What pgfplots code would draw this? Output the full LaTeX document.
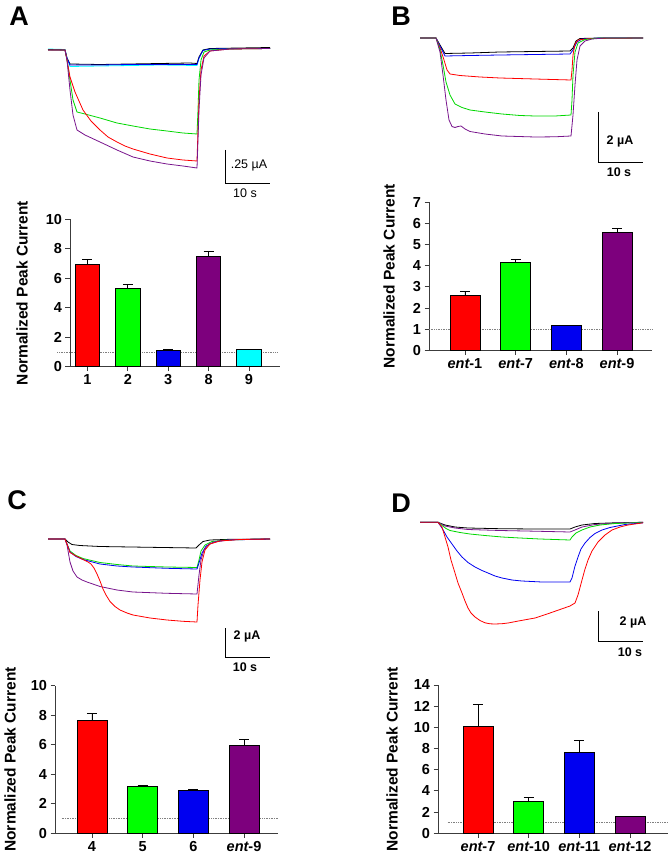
\documentclass[border=0pt]{standalone}
\usepackage{pgfplots}
\pgfplotsset{compat=1.18}
\usepackage{fontspec}
\setmainfont{Liberation Sans}

\definecolor{cRed}{RGB}{255,0,0}
\definecolor{cGreen}{RGB}{0,255,0}
\definecolor{cBlue}{RGB}{0,0,240}
\definecolor{cPurple}{RGB}{125,0,125}
\definecolor{cCyan}{RGB}{0,255,255}
\definecolor{tGreen}{RGB}{0,215,0}
\definecolor{tPurple}{RGB}{120,20,140}
\definecolor{axisgray}{RGB}{60,60,60}

\pgfplotsset{
  barpanel/.style={
    anchor=south west,
    scale only axis,
    axis x line=bottom,
    axis y line=left,
    axis line style={-,axisgray,line width=0.9pt},
    every tick/.style={axisgray,line width=0.9pt},
    tick align=outside,
    major tick length=4.5pt,
    ymin=0,
    xtick={0,1,2,3,4},
    /pgf/number format/assume math mode=true,
    tick label style={font=\fontsize{14.5}{16}\selectfont\bfseries},
    ylabel={Normalized Peak Current},
    ylabel style={at={(axis description cs:0,0.5)},anchor=center,
      font=\fontsize{15.5}{17}\selectfont\bfseries},
    clip=false,
  },
  onebar/.style={ybar,bar shift=0pt,draw=black,line width=0.8pt,fill=#1,
    error bars/y dir=plus,error bars/y explicit,
    error bars/error mark=|,
    error bars/error bar style={black,line width=0.9pt},
    error bars/error mark options={black,mark size=5pt,line width=0.9pt}},
  trace/.style={line width=0.8pt,#1},
  sbar/.style={black,line width=0.9pt},
}

\begin{document}
\begin{tikzpicture}[x=1pt,y=1pt]
\path (0,0) rectangle (669,862);

%%% current traces, in picture coordinates
\begin{axis}[at={(0,0)},anchor=south west,width=669pt,height=862pt,
  scale only axis,xmin=0,xmax=669,ymin=0,ymax=862,y dir=reverse,
  hide axis,clip=false]

  %%% panel A
  \addplot[trace=cCyan] coordinates {(48,49) (65,49.5) (67,58) (70,66.5) (100,66) (130,65.5) (160,65) (197,65.5) (199,58) (203,50) (210,49) (240,48.5) (270,48.5)};
  \addplot[trace=black] coordinates {(48,49.5) (65,50) (67,58) (70,64) (100,64.5) (130,64) (160,63.5) (190,63) (197,63.5) (199,57) (203,50) (210,48.5) (240,48) (270,47.5)};
  \addplot[trace=cBlue] coordinates {(48,50) (65,50) (67,58) (70,65) (100,65) (130,64.5) (160,64.5) (197,64.5) (199,58) (203,50.5) (210,49) (240,48.5) (270,48.5)};
  \addplot[trace=tGreen] coordinates {(48,50) (65,50) (67,60) (70,80) (73,100) (77,112) (85,114) (100,118) (117,123) (133,126) (150,129) (167,131) (183,133) (197,134) (198,110) (199,80) (201,60) (204,52) (210,50) (230,49) (270,48.5)};
  \addplot[trace=cRed] coordinates {(48,50) (65,50) (67,60) (70,77) (75,92) (83,110) (91,121) (100,130) (108,137) (117,142) (125,146) (133,149) (150,154) (167,158) (183,160) (197,161) (198,130) (199,100) (201,70) (204,56) (210,51) (230,49) (270,48.5)};
  \addplot[trace=tPurple] coordinates {(48,50) (65,50) (67,60) (70,90) (73,115) (77,130) (85,135) (100,142) (117,150) (133,157) (150,161) (167,164) (183,166) (197,168) (198,140) (199,110) (201,75) (204,58) (210,51) (230,49) (270,48.5)};
  \addplot[sbar] coordinates {(225,150) (225,183) (270,183)};
  \node[font=\fontsize{12.5}{14}\selectfont] at (axis cs:249,165) {.25 µA};
  \node[font=\fontsize{12.5}{14}\selectfont] at (axis cs:245,193) {10 s};
  \node[font=\fontsize{27}{30}\selectfont\bfseries] at (axis cs:19,16.5) {A};

  %%% panel B
  \addplot[trace=black] coordinates {(420,38) (436,38) (440,45) (445,53.5) (470,53) (500,52) (535,51.5) (570,51) (573,48) (576,41) (580,38.5) (600,38) (643,38)};
  \addplot[trace=cBlue] coordinates {(420,38) (436,38) (440,46) (445,56) (470,55.5) (500,55) (535,54.5) (570,54) (573,50) (577,42) (582,39) (600,38) (643,38)};
  \addplot[trace=cRed] coordinates {(420,38) (436,38) (440,48) (444,60) (447,70) (450,74) (460,75.5) (480,77) (500,78) (535,79) (571,80) (572,70) (573,55) (575,44) (578,40) (590,38.5) (643,38)};
  \addplot[trace=tGreen] coordinates {(420,38) (436,38) (440,50) (443,65) (446,82) (450,95) (455,104) (462,107.5) (470,110) (485,112) (502,114) (520,115.5) (535,116) (555,116) (571,115) (572,100) (573,75) (575,52) (578,43) (585,39.5) (600,38) (643,38)};
  \addplot[trace=tPurple] coordinates {(420,38) (436,38) (440,52) (443,75) (446,100) (449,120) (452,126.5) (455,127.5) (458,126.5) (461,126) (465,129) (470,131.5) (485,134) (502,136) (535,137) (555,136.8) (571,136) (573,115) (575,85) (577,60) (580,46) (585,41) (592,39) (605,38) (643,38)};
  \addplot[sbar] coordinates {(598,112) (598,162) (643,162)};
  \node[font=\fontsize{12.5}{14}\selectfont\bfseries] at (axis cs:620,141) {2 µA};
  \node[font=\fontsize{12.5}{14}\selectfont\bfseries] at (axis cs:619,172) {10 s};
  \node[font=\fontsize{27}{30}\selectfont\bfseries] at (axis cs:401,16.5) {B};

  %%% panel C
  \addplot[trace=black] coordinates {(48,539) (65,539) (68,542) (72,544.5) (80,545.5) (100,546.5) (150,547.3) (196,548) (199,545) (203,541.5) (210,540) (230,539.3) (270,539)};
  \addplot[trace=tGreen] coordinates {(48,539) (65,539) (67,544) (70,551) (76,555.5) (83,558.5) (100,562.5) (117,564.5) (133,566) (167,567) (197,567.5) (199,560) (201,551) (205,545) (212,541.5) (225,540) (270,539)};
  \addplot[trace=cBlue] coordinates {(48,539) (65,539) (67,544) (70,552) (76,556.5) (83,559.5) (100,564) (117,566) (133,567) (167,568.3) (197,569) (199,563) (202,553) (206,546) (214,542) (228,540) (270,539)};
  \addplot[trace=tPurple] coordinates {(48,539) (65,539) (67,545) (70,562) (73,571) (77,577) (82,580) (87,582) (100,586.5) (117,590) (133,592) (167,593.3) (197,594) (199,575) (201,560) (204,550) (209,544) (218,541) (235,539.5) (270,539)};
  \addplot[trace=cRed] coordinates {(48,539) (65,539) (67,544) (70,552.5) (76,556) (83,559.5) (88,562) (91,564) (94,568) (97,574) (100,581) (103,589) (106,595) (110,601.5) (115,606.5) (120,610) (127,613) (133,615) (150,618) (167,620) (183,621.3) (197,622) (198,605) (200,580) (202,562) (205,550) (210,544) (220,541) (240,539.5) (270,539)};
  \addplot[sbar] coordinates {(225,628) (225,657) (270,657)};
  \node[font=\fontsize{12.5}{14}\selectfont\bfseries] at (axis cs:247,636) {2 µA};
  \node[font=\fontsize{12.5}{14}\selectfont\bfseries] at (axis cs:245,667) {10 s};
  \node[font=\fontsize{27}{30}\selectfont\bfseries] at (axis cs:17,500) {C};

  %%% panel D
  \addplot[trace=black] coordinates {(420,522.3) (438,522.3) (445,525) (455,527) (468,528) (500,528.7) (535,529) (570,529) (575,527) (582,525) (595,523.5) (615,522.8) (643,522.3)};
  \addplot[trace=tPurple] coordinates {(420,522.3) (438,522.3) (445,526) (455,528) (468,529.5) (500,530.5) (535,531.2) (570,532) (575,530) (582,527) (595,524.5) (615,523) (643,522.3)};
  \addplot[trace=tGreen] coordinates {(420,522.3) (438,522.3) (442,525.5) (446,528.5) (450,530.5) (460,532.5) (470,534) (485,535.5) (502,537) (520,538) (540,539) (570,540) (572,537) (576,533) (582,530) (590,527) (600,525) (615,523.5) (643,522.5)};
  \addplot[trace=cBlue] coordinates {(420,522.3) (438,522.3) (442,528) (447,537) (452,544) (457,551) (462,557) (468,562.5) (475,567) (482,570.5) (488,573) (495,576) (502,578) (512,580) (522,581) (542,582) (570,582) (572,578) (575,566) (578,557) (581,549) (585,543) (590,537.5) (595,533.5) (602,530) (610,527.5) (625,524.5) (643,522.8)};
  \addplot[trace=cRed] coordinates {(420,522.3) (438,522.3) (442,527) (445,537) (448,547) (451,560) (455,573) (458,583) (462,593) (465,601) (468,608) (471,613) (475,617) (480,620.5) (485,622.8) (490,623.8) (495,624) (502,623.7) (508,623) (520,620.7) (535,618) (550,613) (570,606) (575,603) (578,595) (582,580) (585,569) (588,560) (592,551) (598,542) (605,535) (612,530) (620,527) (628,525) (643,522.8)};
  \addplot[sbar] coordinates {(598,611) (598,641) (643,641)};
  \node[font=\fontsize{12.5}{14}\selectfont\bfseries] at (axis cs:633,622) {2 µA};
  \node[font=\fontsize{12.5}{14}\selectfont\bfseries] at (axis cs:630,652) {10 s};
  \node[font=\fontsize{27}{30}\selectfont\bfseries] at (axis cs:401,503) {D};
\end{axis}

%%% bar chart A
\begin{axis}[barpanel,at={(70pt,495.3pt)},width=210pt,height=147.4pt,
  xmin=-0.433,xmax=4.767,ymax=10,ytick={0,2,...,10},
  xticklabels={1,2,3,8,9},ylabel style={yshift=48pt}]
  \addplot[gray,densely dotted,line width=0.7pt] coordinates {(-0.75,1) (4.7,1)};
  \addplot[bar width=0.606,onebar=cRed] coordinates {(0,6.97) +- (0,0.32)};
  \addplot[bar width=0.606,onebar=cGreen] coordinates {(1,5.32) +- (0,0.24)};
  \addplot[bar width=0.606,onebar=cBlue] coordinates {(2,1.11) +- (0,0.04)};
  \addplot[bar width=0.606,onebar=cPurple] coordinates {(3,7.51) +- (0,0.34)};
  \addplot[bar width=0.606,onebar=cCyan] coordinates {(4,1.18) +- (0,0.01)};
\end{axis}

%%% bar chart B
\begin{axis}[barpanel,at={(429pt,511.7pt)},width=223pt,height=148pt,
  xmin=-0.71,xmax=3.69,ymax=7,ytick={0,1,...,7},
  xticklabels={{\itshape ent}-1,{\itshape ent}-7,{\itshape ent}-8,{\itshape ent}-9},
  ylabel style={yshift=40pt}]
  \addplot[gray,densely dotted,line width=0.7pt] coordinates {(-0.71,1) (3.69,1)};
  \addplot[bar width=0.59,onebar=cRed] coordinates {(0,2.60) +- (0,0.17)};
  \addplot[bar width=0.59,onebar=cGreen] coordinates {(1,4.16) +- (0,0.14)};
  \addplot[bar width=0.59,onebar=cBlue] coordinates {(2,1.18) +- (0,0.01)};
  \addplot[bar width=0.59,onebar=cPurple] coordinates {(3,5.58) +- (0,0.17)};
\end{axis}

%%% bar chart C
\begin{axis}[barpanel,at={(55pt,28.7pt)},width=223pt,height=147.6pt,
  xmin=-0.73,xmax=3.67,ymax=10,ytick={0,2,...,10},
  xticklabels={4,5,6,{\itshape ent}-9},ylabel style={yshift=45pt}]
  \addplot[gray,densely dotted,line width=0.7pt] coordinates {(-0.6,1) (3.67,1)};
  \addplot[bar width=0.59,onebar=cRed] coordinates {(0,7.62) +- (0,0.50)};
  \addplot[bar width=0.59,onebar=cGreen] coordinates {(1,3.18) +- (0,0.07)};
  \addplot[bar width=0.59,onebar=cBlue] coordinates {(2,2.93) +- (0,0.07)};
  \addplot[bar width=0.59,onebar=cPurple] coordinates {(3,5.96) +- (0,0.40)};
\end{axis}

%%% bar chart D
\begin{axis}[barpanel,at={(438pt,28.7pt)},width=230pt,height=148.3pt,
  xmin=-0.79,xmax=3.75,ymax=14,ytick={0,2,...,14},
  xticklabels={{\itshape ent}-7,{\itshape ent}-10,{\itshape ent}-11,{\itshape ent}-12},
  ylabel style={yshift=46pt}]
  \addplot[gray,densely dotted,line width=0.7pt] coordinates {(-0.6,1) (3.75,1)};
  \addplot[bar width=0.59,onebar=cRed] coordinates {(0,10.13) +- (0,2.04)};
  \addplot[bar width=0.59,onebar=cGreen] coordinates {(1,3.02) +- (0,0.38)};
  \addplot[bar width=0.59,onebar=cBlue] coordinates {(2,7.60) +- (0,1.20)};
  \addplot[bar width=0.59,onebar=cPurple] coordinates {(3,1.57) +- (0,0.04)};
\end{axis}

\end{tikzpicture}
\end{document}
